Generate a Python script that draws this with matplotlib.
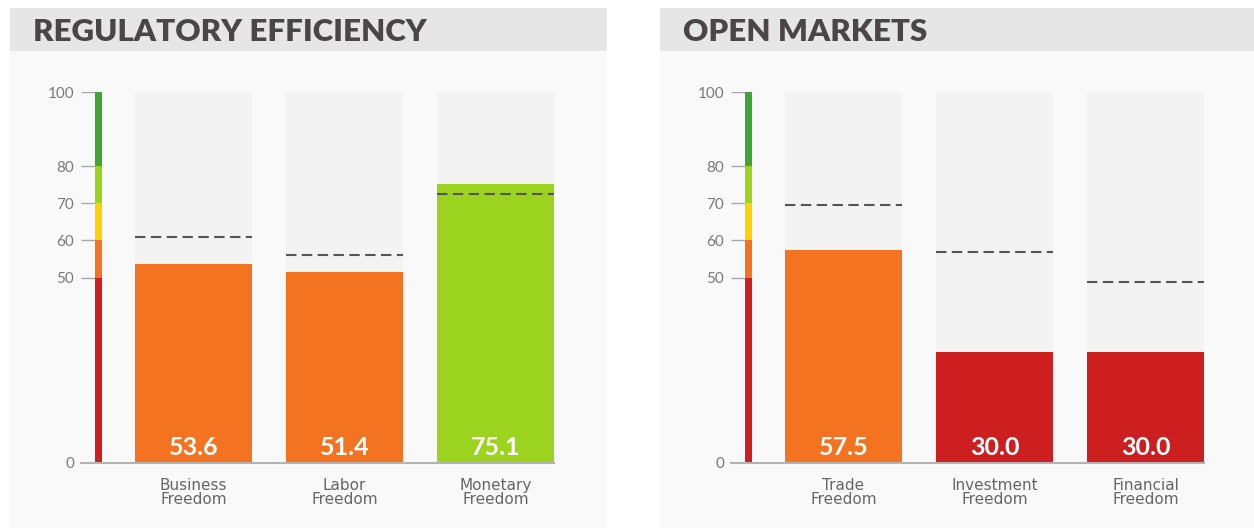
import matplotlib.pyplot as plt
from matplotlib.patches import Rectangle

W, H = 1254, 529

panel_titles = ["REGULATORY EFFICIENCY", "OPEN MARKETS"]
left_cats = ["Business\nFreedom", "Labor\nFreedom", "Monetary\nFreedom"]
left_vals = [53.6, 51.4, 75.1]
left_avg = [60.9, 56.0, 72.5]
right_cats = ["Trade\nFreedom", "Investment\nFreedom", "Financial\nFreedom"]
right_vals = [57.5, 30.0, 30.0]
right_avg = [69.5, 56.9, 48.8]

yticks = [0, 50, 60, 70, 80, 100]
band_edges = [0, 50, 60, 70, 80, 100]
band_colors = ['#cd1e20', '#f47320', '#fed100', '#9cd31f', '#41a535']


def band_color(v):
    for i in range(len(band_colors)):
        if v < band_edges[i + 1]:
            return band_colors[i]
    return band_colors[-1]


fig = plt.figure(figsize=(W / 100, H / 100), dpi=100)
fig.patch.set_facecolor('white')


def px_rect(x, y, w, h, color):
    # rectangle given in pixel coords from the top-left corner
    r = Rectangle((x / W, 1 - (y + h) / H), w / W, h / H, transform=fig.transFigure,
                  facecolor=color, edgecolor='none', zorder=0)
    fig.add_artist(r)


bar_w = 117 / 151
x_lo = -0.745
cb_x = -0.652
cb_w = 0.046

panels = [(0, panel_titles[0], left_cats, left_vals, left_avg),
          (650, panel_titles[1], right_cats, right_vals, right_avg)]

for off, title, cats, vals, avg in panels:
    # header band and panel body
    px_rect(10 + off, 8, 597, 43, '#e6e6e6')
    px_rect(10 + off, 51, 597, 477, '#f9f9f9')
    fig.text((33 + off) / W, 1 - 41 / H, title, fontsize=22.5, fontweight='heavy',
             family='Lato', color='#4a4647', va='baseline', ha='left')

    ax = fig.add_axes([(81 + off) / W, 66 / H, 473 / W, 371 / H])
    ax.patch.set_alpha(0)
    ax.set_xlim(x_lo, 2 + bar_w / 2)
    ax.set_ylim(0, 100)
    for s in ['top', 'right', 'left']:
        ax.spines[s].set_visible(False)
    ax.spines['bottom'].set_color('#b3b3b3')
    ax.spines['bottom'].set_linewidth(1.5)
    ax.spines['bottom'].set_zorder(5)
    ax.set_xticks([])
    ax.set_yticks(yticks)
    ax.tick_params(axis='y', length=0, pad=5, labelsize=11, labelcolor='#7a7a7a')
    for lab in ax.get_yticklabels():
        lab.set_family('Lato')

    # tick marks and the colour scale
    ax.hlines(yticks, x_lo, cb_x, color='#a8a8a8', lw=1)
    for i in range(len(band_colors)):
        ax.bar(cb_x, band_edges[i + 1] - band_edges[i], bottom=band_edges[i],
               width=cb_w, align='edge', color=band_colors[i], zorder=3)

    xs = range(len(vals))
    ax.bar(xs, [100] * len(vals), width=bar_w, color='#f3f3f3', zorder=1)
    ax.bar(xs, vals, width=bar_w, color=[band_color(v) for v in vals], zorder=2)
    for x, v, a, c in zip(xs, vals, avg, cats):
        ax.hlines(a, x - bar_w / 2, x + bar_w / 2, color='#555555', lw=1.5,
                  linestyles=(0, (5, 2.6)), zorder=4)
        ax.text(x, 2.2, f"{v:.1f}", ha='center', va='baseline', color='white',
                fontsize=18, fontweight='bold', family='Lato', zorder=6)
        ax.text(x, -7.9, c, ha='center', va='center', color='#666666',
                fontsize=11, family='DejaVu Sans', linespacing=0.92)

fig.savefig('out.png', dpi=100)
